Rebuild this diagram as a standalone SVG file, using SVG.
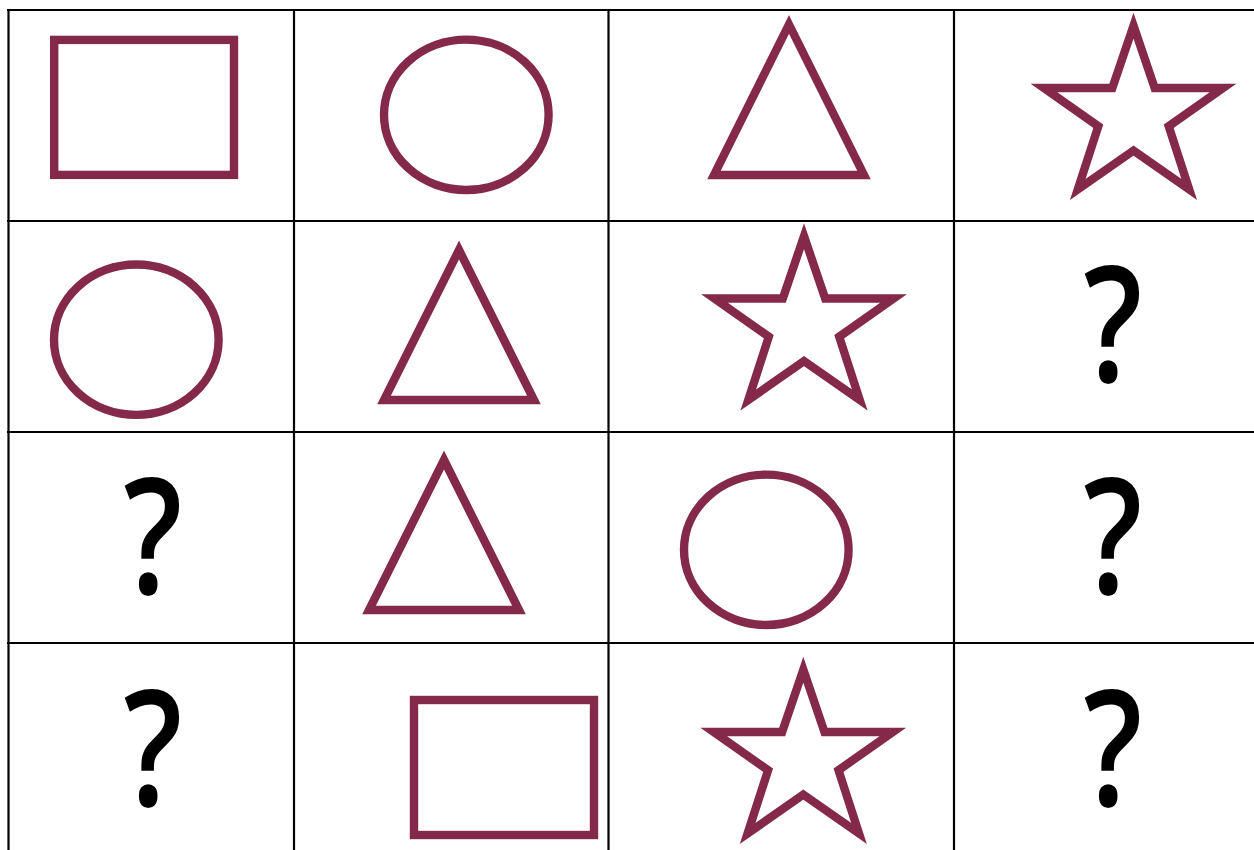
<svg xmlns="http://www.w3.org/2000/svg" width="1254" height="850" viewBox="0 0 1254 850">
  <defs>
    <style>
      .grid { stroke: #000; stroke-width: 2.2; fill: none; }
      .shape { fill: none; stroke: #85294A; stroke-width: 8.4; stroke-miterlimit: 10; }
      .q { font-family: "Open Sans", "Liberation Sans", sans-serif; font-weight: 600; font-size: 162px; fill: #000; text-anchor: middle; }
    </style>
    <polygon id="star" points="0,0 21.2,62.3 89.6,62.3 35.2,100.5 55.7,163.8 0,124.9 -55.7,163.8 -35.2,100.5 -89.6,62.3 -21.2,62.3"/>
  </defs>
  <rect x="0" y="0" width="1254" height="850" fill="#fff"/>
  <g id="grid" class="grid">
    <line x1="7" y1="10" x2="1254" y2="10"/>
    <line x1="7" y1="221" x2="1254" y2="221"/>
    <line x1="7" y1="432" x2="1254" y2="432"/>
    <line x1="7" y1="643" x2="1254" y2="643"/>
    <line x1="8.5" y1="9" x2="8.5" y2="850"/>
    <line x1="294" y1="9" x2="294" y2="850"/>
    <line x1="608.5" y1="9" x2="608.5" y2="850"/>
    <line x1="954" y1="9" x2="954" y2="850"/>
  </g>
  <g id="r1c1"><rect class="shape" x="54.2" y="39.9" width="179.8" height="135"/></g>
  <g id="r1c2"><ellipse class="shape" cx="466.3" cy="114.8" rx="82.3" ry="75.2"/></g>
  <g id="r1c3"><polygon class="shape" points="789,24.5 864,175 714,175"/></g>
  <g id="r1c4"><use href="#star" class="shape" x="1133.5" y="25.7"/></g>
  <g id="r2c1"><ellipse class="shape" cx="136.3" cy="339.7" rx="82.3" ry="75.2"/></g>
  <g id="r2c2"><polygon class="shape" points="459,250 534,400 384,400"/></g>
  <g id="r2c3"><use href="#star" class="shape" x="804" y="236.2"/></g>
  <g id="r2c4"><text class="q" transform="translate(1113,382) scale(0.8,1)">?</text></g>
  <g id="r3c1"><text class="q" transform="translate(153,594) scale(0.8,1)">?</text></g>
  <g id="r3c2"><polygon class="shape" points="444,460 519,610 369,610"/></g>
  <g id="r3c3"><ellipse class="shape" cx="766.3" cy="549.8" rx="82.3" ry="75.2"/></g>
  <g id="r3c4"><text class="q" transform="translate(1113,594) scale(0.8,1)">?</text></g>
  <g id="r4c1"><text class="q" transform="translate(153,806) scale(0.8,1)">?</text></g>
  <g id="r4c2"><rect class="shape" x="414" y="700" width="180" height="135"/></g>
  <g id="r4c3"><use href="#star" class="shape" x="803.3" y="669.7"/></g>
  <g id="r4c4"><text class="q" transform="translate(1113,806) scale(0.8,1)">?</text></g>
</svg>
